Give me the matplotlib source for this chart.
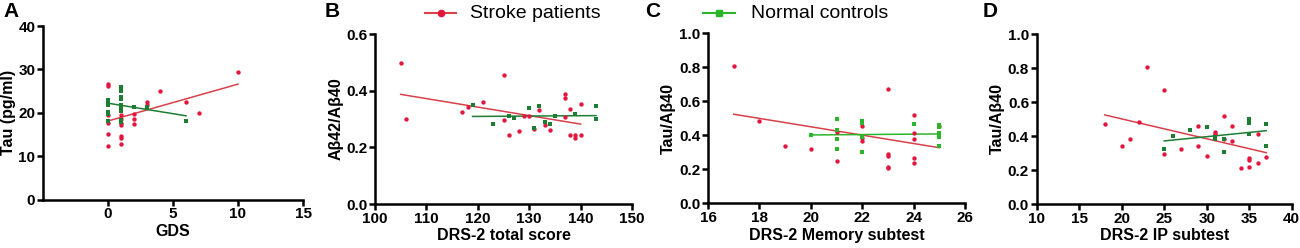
import matplotlib
matplotlib.use("Agg")
import matplotlib.pyplot as plt
from matplotlib.lines import Line2D

plt.rcParams['font.family'] = ['Liberation Sans', 'DejaVu Sans']

# ---------------- Data ----------------
# Panel A: GDS vs Tau (pg/ml)
a_red_x = [0, 0, 0, 0, 0, 0, 1, 1, 1, 1, 1, 1, 1, 2, 2, 2, 3, 3, 4, 6, 7, 10]
a_red_y = [26.6, 26.2, 19.5, 17.7, 15.1, 12.3, 19.4, 18.5, 17.6, 17.2, 14.6, 14.1, 12.8,
           19.6, 18.6, 17.3, 22.4, 21.9, 25.0, 22.4, 19.9, 29.5]
a_grn_x = [0, 0, 0, 0, 0, 0, 1, 1, 1, 1, 1, 1, 1, 1, 1, 1, 2, 3, 3, 6]
a_grn_y = [22.9, 22.4, 21.9, 20.2, 19.7, 18.0, 26.0, 25.5, 25.0, 23.6, 23.2, 21.7, 21.3,
           20.5, 18.4, 17.9, 21.4, 21.4, 21.0, 18.1]
a_red_fit_x = [0, 10]
a_red_fit_y = [18.1, 26.6]
a_grn_fit_x = [0, 6]
a_grn_fit_y = [22.2, 19.3]

# Panel B: DRS-2 total score vs Abeta42/Abeta40
b_red_x = [105, 106, 117, 118, 121, 125, 125, 126, 128, 129, 130, 131, 132, 133, 134,
           137, 137, 137, 138, 138, 139, 139, 140, 140]
b_red_y = [0.499, 0.300, 0.324, 0.344, 0.361, 0.454, 0.296, 0.244, 0.256, 0.309, 0.310,
           0.265, 0.331, 0.280, 0.262, 0.388, 0.375, 0.307, 0.334, 0.245, 0.245, 0.233,
           0.352, 0.243]
b_grn_x = [119, 123, 126, 127, 130, 131, 132, 133, 134, 135, 139, 143, 143]
b_grn_y = [0.348, 0.281, 0.311, 0.302, 0.338, 0.270, 0.346, 0.291, 0.283, 0.310, 0.319,
           0.346, 0.299]
b_red_fit_x = [105, 140]
b_red_fit_y = [0.387, 0.282]
b_grn_fit_x = [119, 143]
b_grn_fit_y = [0.309, 0.312]

# Panel C: DRS-2 Memory subtest vs Tau/Abeta40
c_red_x = [17, 18, 19, 20, 21, 21, 22, 22, 22, 23, 23, 23, 23, 23, 24, 24, 24, 24, 24, 25]
c_red_y = [0.808, 0.486, 0.339, 0.320, 0.420, 0.249, 0.457, 0.382, 0.366, 0.671, 0.292,
           0.278, 0.215, 0.206, 0.519, 0.412, 0.376, 0.268, 0.239, 0.455]
c_grn_x = [20, 21, 21, 21, 21, 22, 22, 22, 22, 24, 25, 25, 25, 25, 25, 25]
c_grn_y = [0.402, 0.496, 0.433, 0.376, 0.321, 0.484, 0.474, 0.392, 0.304, 0.465, 0.461,
           0.451, 0.416, 0.402, 0.390, 0.337]
c_red_fit_x = [17, 25]
c_red_fit_y = [0.524, 0.327]
c_grn_fit_x = [20, 25]
c_grn_fit_y = [0.402, 0.408]

# Panel D: DRS-2 IP subtest vs Tau/Abeta40
d_red_x = [18, 20, 21, 22, 23, 25, 25, 27, 29, 29, 30, 31, 31, 32, 32, 33, 33, 34,
           35, 35, 35, 36, 36, 37]
d_red_y = [0.469, 0.343, 0.380, 0.484, 0.804, 0.671, 0.294, 0.322, 0.461, 0.339, 0.284,
           0.425, 0.412, 0.520, 0.380, 0.461, 0.371, 0.210, 0.272, 0.259, 0.218, 0.412,
           0.243, 0.278]
d_grn_x = [25, 26, 28, 30, 31, 31, 32, 32, 35, 35, 35, 37, 37]
d_grn_y = [0.325, 0.402, 0.435, 0.453, 0.396, 0.382, 0.385, 0.306, 0.498, 0.478, 0.414,
           0.469, 0.339]
d_red_fit_x = [18, 37]
d_red_fit_y = [0.524, 0.302]
d_grn_fit_x = [25, 37]
d_grn_fit_y = [0.371, 0.431]

panel_letters = ['A', 'B', 'C', 'D']
x_labels = ['GDS', 'DRS-2 total score', 'DRS-2 Memory subtest', 'DRS-2 IP subtest']
y_labels = ['Tau (pg/ml)', 'A\u03b242/A\u03b240', 'Tau/A\u03b240', 'Tau/A\u03b240']
legend_labels = ['Stroke patients', 'Normal controls']

# ---------------- Styling ----------------
RED_PT = '#e3173e'
RED_LN = '#d8404a'
GRN_DARK = '#1d7d32'
GRN_BRIGHT = '#2bb52b'

fig = plt.figure(figsize=(13.0, 2.48), dpi=100)

H = 248.0
W = 1300.0
def ax_at(l, r, t, b):
    return fig.add_axes([l / W, (H - b) / H, (r - l) / W, (b - t) / H])

axA = ax_at(43, 303, 26, 199.5)
axB = ax_at(375, 632, 34, 204)
axC = ax_at(708, 965, 33.3, 203.3)
axD = ax_at(1036.7, 1291.7, 34, 204)

panels = [
    (axA, a_red_x, a_red_y, a_grn_x, a_grn_y, a_red_fit_x, a_red_fit_y, a_grn_fit_x, a_grn_fit_y,
     (-5, 15), [0, 5, 10, 15], (0, 40), [0, 10, 20, 30, 40], '{:.0f}', GRN_DARK),
    (axB, b_red_x, b_red_y, b_grn_x, b_grn_y, b_red_fit_x, b_red_fit_y, b_grn_fit_x, b_grn_fit_y,
     (100, 150), [100, 110, 120, 130, 140, 150], (0, 0.6), [0, 0.2, 0.4, 0.6], '{:.1f}', GRN_DARK),
    (axC, c_red_x, c_red_y, c_grn_x, c_grn_y, c_red_fit_x, c_red_fit_y, c_grn_fit_x, c_grn_fit_y,
     (16, 26), [16, 18, 20, 22, 24, 26], (0, 1.0), [0, 0.2, 0.4, 0.6, 0.8, 1.0], '{:.1f}', GRN_BRIGHT),
    (axD, d_red_x, d_red_y, d_grn_x, d_grn_y, d_red_fit_x, d_red_fit_y, d_grn_fit_x, d_grn_fit_y,
     (10, 40), [10, 15, 20, 25, 30, 35, 40], (0, 1.0), [0, 0.2, 0.4, 0.6, 0.8, 1.0], '{:.1f}', GRN_DARK),
]

for i, (ax, rx, ry, gx, gy, rfx, rfy, gfx, gfy, xl, xt, yl, yt, fmt, gcol) in enumerate(panels):
    ax.plot(rfx, rfy, color=RED_LN, lw=1.1, zorder=2)
    ax.plot(gfx, gfy, color=gcol, lw=1.1, zorder=2)
    ax.scatter(rx, ry, s=10, marker='o', color=RED_PT, linewidths=0, zorder=3)
    ax.scatter(gx, gy, s=9, marker='s', color=gcol, linewidths=0, zorder=3)
    ax.set_xlim(*xl)
    ax.set_ylim(*yl)
    ax.set_xticks(xt)
    ax.set_yticks(yt)
    ax.set_xticklabels([str(v) for v in xt])
    ax.set_yticklabels([fmt.format(v) for v in yt])
    for s in ['top', 'right']:
        ax.spines[s].set_visible(False)
    for s in ['left', 'bottom']:
        ax.spines[s].set_linewidth(1.8)
    ax.tick_params(axis='both', direction='out', length=4, width=1.8, labelsize=11, pad=1.5)
    for lab in ax.get_xticklabels() + ax.get_yticklabels():
        lab.set_fontweight('bold')
    ax.set_xlabel(x_labels[i], fontsize=11.5, fontweight='bold', labelpad=2)
    ax.set_ylabel(y_labels[i], fontsize=11.5, fontweight='bold', labelpad=2)
    ax.set_facecolor('none')

# Panel letters
for letter, xp in zip(panel_letters, [3, 325, 645, 983]):
    fig.text(xp / W, 1 - 2 / H, letter, fontsize=15, fontweight='bold', ha='left', va='top')

# Legend entries
def legend_entry(x0, x1, y, marker, col, lcol, label, tx):
    fig.add_artist(Line2D([x0 / W, x1 / W], [1 - y / H, 1 - y / H], color=lcol, lw=1.5,
                          transform=fig.transFigure))
    fig.add_artist(Line2D([(x0 + x1) / 2 / W], [1 - y / H], marker=marker, color=col,
                          markersize=4.5, lw=0, transform=fig.transFigure))
    fig.text(tx / W, 1 - y / H, label, fontsize=14, ha='left', va='center')

legend_entry(425, 456, 13, 'o', RED_PT, RED_LN, legend_labels[0], 470)
legend_entry(703, 735, 13, 's', GRN_BRIGHT, GRN_BRIGHT, legend_labels[1], 751)

fig.savefig('out.png', dpi=100)
